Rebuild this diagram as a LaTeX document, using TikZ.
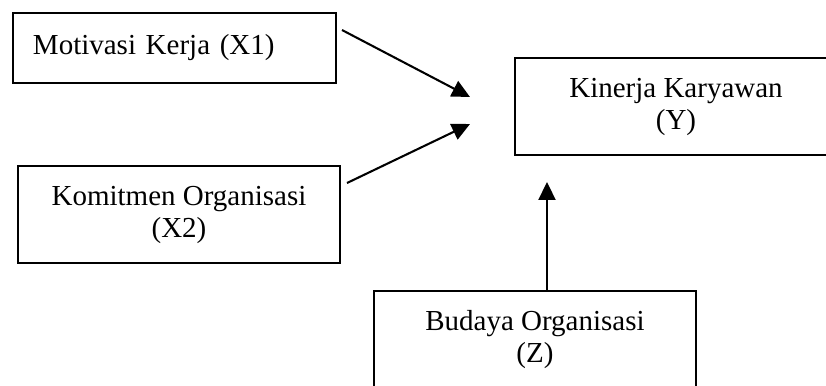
\documentclass[tikz,border=0pt]{standalone}
\usepackage{fontspec}
\setmainfont{Liberation Serif}
\usetikzlibrary{arrows.meta}

\begin{document}
\begin{tikzpicture}[
                    x=0.4346pt,
                    y=-0.4346pt,
                    -{Triangle[length=7.8pt,width=7.4pt]},
                    line width=0.9pt,
                    varbox/.style={draw, rectangle, align=center, inner sep=0pt,
                                   minimum width=140pt, minimum height=42.2pt,
                                   font=\fontsize{12.6}{13.9}\selectfont}
                ]
                \useasboundingbox (0,0) rectangle (826,385);
                \clip (0,0) rectangle (826,385);

                \node[varbox, minimum height=30.4pt, inner xsep=8.26pt,
                      text width=123pt, align=left] (X1) at (174.5,48) {Motivasi Kerja (X1)};
                \node[varbox] (X2) at (179,214.5) {Komitmen Organisasi\\(X2)};
                \node[varbox] (Y) at (676,106.5) {Kinerja Karyawan\\(Y)};
                \node[varbox] (Z) at (535,339.5) {Budaya Organisasi\\(Z)};

                % free ends of the arrows
                \coordinate (s1) at (342,30);
                \coordinate (t1) at (470,97);
                \coordinate (s2) at (347,183);
                \coordinate (t2) at (470,124);
                \coordinate (t3) at (547,182);

                \path
                (s1) edge (t1)
                (s2) edge (t2)
                (Z.north -| t3) edge (t3)
                ;
            \end{tikzpicture}
\end{document}
